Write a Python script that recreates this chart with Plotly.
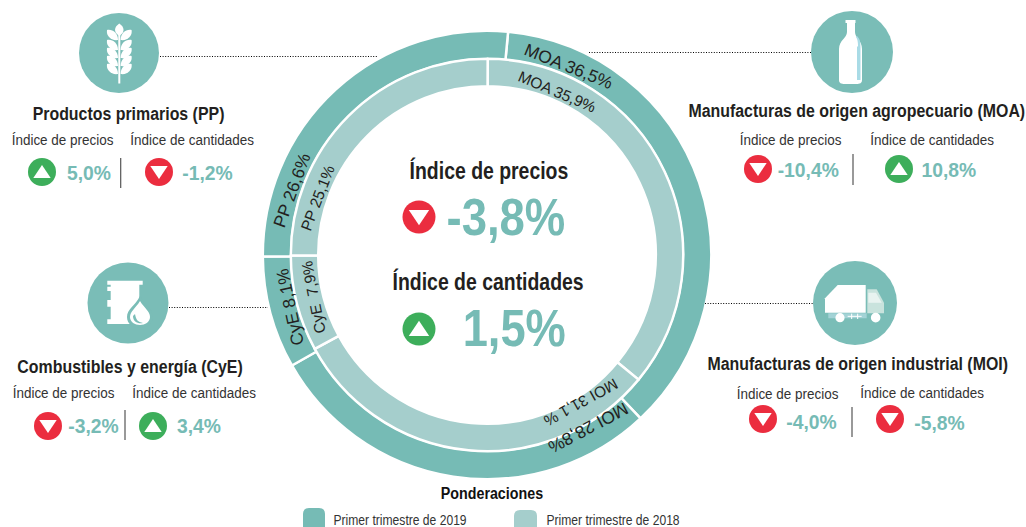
import json
import plotly.graph_objects as go

# ---------- data ----------
categories = ["MOA", "MOI", "CyE", "PP"]
weights_2019 = [36.5, 28.8, 8.1, 26.6]
weights_2018 = [35.9, 31.1, 7.9, 25.1]
series_names = ["Primer trimestre de 2019", "Primer trimestre de 2018"]

total_precios = -3.8
total_cantidades = 1.5
panel_titles = ["Productos primarios (PP)", "Combustibles y energía (CyE)",
                "Manufacturas de origen agropecuario (MOA)", "Manufacturas de origen industrial (MOI)"]
panel_precios = [5.0, -3.2, -10.4, -4.0]
panel_cantidades = [-1.2, 3.4, 10.8, -5.8]
sub_precios = "Índice de precios"
sub_cantidades = "Índice de cantidades"

ring_labels_2019 = ["MOA 36,5%", "MOI 28,8%", "CyE 8,1%", "PP 26,6%"]
ring_labels_2018 = ["MOA 35,9%", "MOI 31,1 %", "CyE  7,9%", "PP 25,1%"]

# ---------- style / layout ----------
W, H = 1026, 527
TEAL, LIGHT, RED, GREEN, INK = "#76BBB5", "#A5CECC", "#EB2D3F", "#3DAE5B", "#231F20"
DISC = "#7ABDB7"
SANS = "Liberation Sans, Arial, sans-serif"
CX, CY = 487, 255


def fmt(v):
    return f"{v:.1f}%".replace(".", ",")


def pie(values, R, r, rotation, color, name):
    return go.Pie(
        labels=categories, values=values, sort=False, direction="clockwise", rotation=rotation,
        hole=r / R, textinfo="none", hoverinfo="skip", showlegend=False, name=name,
        marker=dict(colors=[color] * 4, line=dict(color="white", width=2.5)),
        domain=dict(x=[(CX - R) / W, (CX + R) / W], y=[1 - (CY + R) / H, 1 - (CY - R) / H]),
    )


fig = go.Figure()
fig.add_trace(pie(weights_2019, 224.2, 195.8, 5.4, TEAL, series_names[0]))
fig.add_trace(pie(weights_2018, 196.2, 168.8, 0.2, LIGHT, series_names[1]))

ann = []
squeeze = {}   # annotation index -> horizontal condensing factor (no condensed font is installed)


def text(x, y, s, size, bold=False, color=INK, angle=0, k=None):
    if k:
        squeeze[len(ann)] = k
    ann.append(dict(x=x, y=y, xref="x", yref="y", text=f"<b>{s}</b>" if bold else s, showarrow=False,
                    xanchor="center", yanchor="middle", textangle=angle, borderpad=0,
                    font=dict(family=SANS, size=size, color=color)))


shapes = []


def circle(cx, cy, r, color):
    shapes.append(dict(type="circle", xref="x", yref="y", x0=cx - r, x1=cx + r, y0=cy - r, y1=cy + r,
                       fillcolor=color, line=dict(width=0)))


def path(d, color):
    shapes.append(dict(type="path", xref="x", yref="y", path=d, fillcolor=color, line=dict(width=0)))


def line(x0, y0, x1, y1, color="#3a3a3a", width=1, dash="solid"):
    shapes.append(dict(type="line", xref="x", yref="y", x0=x0, y0=y0, x1=x1, y1=y1,
                       line=dict(color=color, width=width, dash=dash)))


def poly(pts, color, ox=0, oy=0, k=1.0):
    d = "M " + " L ".join(f"{ox + x * k:.1f},{oy + y * k:.1f}" for x, y in pts) + " Z"
    path(d, color)


big_x, big_y, big_c, big_s = [], [], [], []


def badge(x, y, v, r=14):
    up = v > 0
    big_x.append(x); big_y.append(y); big_c.append(GREEN if up else RED); big_s.append(2 * r)
    w, t, b = 0.62 * r, 0.5 * r, 0.42 * r
    if up:
        poly([(x - w, y + b), (x + w, y + b), (x, y - t)], "white")
    else:
        poly([(x - w, y - b), (x + w, y - b), (x, y + t)], "white")


# ----- donut labels -----
label_pos_2019 = [(568, 66, 22), (588, 428, 152), (290, 307, -102), (292, 190, -70)]
label_pos_2018 = [(557, 91, 23), (581, 403, 151), (313, 298, -101), (317, 198, -69)]
for s, (x, y, a) in zip(ring_labels_2019, label_pos_2019):
    text(x, y, s, 17.5, angle=a)
for s, (x, y, a) in zip(ring_labels_2018, label_pos_2018):
    text(x, y, s, 15.5, angle=a)

# ----- centre -----
text(489, 170, sub_precios, 23, bold=True, k=0.845)
badge(419, 217, total_precios, 16.5)
text(506, 217, fmt(total_precios), 52, bold=True, color=TEAL, k=0.875)
text(488, 281, sub_cantidades, 23, bold=True, k=0.845)
badge(419, 329, total_cantidades, 16.5)
text(514, 328, fmt(total_cantidades), 52, bold=True, color=TEAL, k=0.87)

# ----- panels -----
panel_geom = [
    dict(title=(128, 113), s1=(62, 139), s2=(192, 139), b1=(42, 172), v1=(89, 172), sep=(120.7, 158, 188),
         b2=(159, 172), v2=(207, 172)),
    dict(title=(130, 366), s1=(63, 392), s2=(194, 392), b1=(48, 426), v1=(93, 425), sep=(125, 410, 440),
         b2=(153, 426), v2=(199, 425)),
    dict(title=(857, 110), s1=(790, 139), s2=(932, 139), b1=(758, 169), v1=(808, 169), sep=(853, 154, 185),
         b2=(899, 169), v2=(949, 169)),
    dict(title=(857, 363), s1=(787, 393), s2=(922, 392), b1=(763, 419), v1=(811, 421), sep=(852, 407, 437),
         b2=(890, 419), v2=(939, 422)),
]
for t, p, q, g in zip(panel_titles, panel_precios, panel_cantidades, panel_geom):
    text(*g["title"], t, 18.5, bold=True, k=0.86)
    text(*g["s1"], sub_precios, 15.5, color="#333333", k=0.87)
    text(*g["s2"], sub_cantidades, 15.5, color="#333333", k=0.87)
    badge(*g["b1"], p)
    badge(*g["b2"], q)
    text(*g["v1"], fmt(p), 21, bold=True, color=TEAL, k=0.92)
    text(*g["v2"], fmt(q), 21, bold=True, color=TEAL, k=0.92)
    line(g["sep"][0], g["sep"][1], g["sep"][0], g["sep"][2], "#555555", 1.2)

# ----- dotted leaders -----
DOT = "1px,1.6px"
line(160, 56.5, 377, 56.5, "#000000", 1.2, DOT)
line(169, 307.5, 268, 307.5, "#000000", 1.2, DOT)
line(589, 52.5, 811, 52.5, "#000000", 1.2, DOT)
line(705, 303.5, 813, 303.5, "#000000", 1.2, DOT)

# ----- icon discs -----
circle(119, 53, 40, DISC)
circle(128, 303, 40.5, DISC)
circle(852, 52, 41, DISC)
circle(855, 303, 42, DISC)

# wheat
line(119.3, 35, 119.3, 83.5, "white", 2)
path("M 119.3,23.5 C 114,27 113.5,32 118.6,35.5 L 120,35.5 C 125,32 124.6,27 119.3,23.5 Z", "white")
for y0 in (31, 41, 49, 57, 65):
    path(f"M 118,{y0 + 9} C 118,{y0 + 2} 112.5,{y0 - 2} 107,{y0 - 1} C 106,{y0 + 5} 111,{y0 + 10} 118,{y0 + 9} Z", "white")
    path(f"M 120.6,{y0 + 9} C 120.6,{y0 + 2} 126,{y0 - 2} 131.6,{y0 - 1} C 132.6,{y0 + 5} 127.6,{y0 + 10} 120.6,{y0 + 9} Z", "white")

# barrel + drop (zoom coordinates, 3x)
ox, oy = 0, 250
poly([(322, 92), (428, 92), (428, 104), (418, 104), (418, 150), (400, 208), (428, 208), (428, 222), (322, 222),
      (322, 208), (332, 208), (332, 170), (322, 170), (322, 150), (332, 150), (332, 123), (322, 123), (322, 110),
      (332, 110), (332, 104), (322, 104)], "white", ox, oy, 1 / 3)
path("M 140,296 C 135,306 127,309 127,317 C 127,324 133,328 140,328 C 147,328 153,324 153,317 C 153,309 145,306 140,296 Z",
     DISC)
path("M 140,301 C 136,308 130,311 130,317 C 130,322 135,325 140,325 C 145,325 150,322 150,317 C 150,311 144,308 140,301 Z",
     "white")
path("M 133,316 C 133,322 138,324 143,323 C 138,322 136,320 135,314 Z", DISC)

# bottle
path("M 845.5,20 L 855.5,20 L 855.5,23 L 855,23 L 855,32 C 855,38 862,40 862,49 L 862,80 C 862,83 860,84 856,84 "
     "L 845,84 C 841,84 839,83 839,80 L 839,49 C 839,40 847,38 847,32 L 847,23 L 845.5,23 Z", "white")
path("M 857,36 C 860,39 860.5,42 860.5,47 L 860.5,80 L 857,80 L 857,47 L 858,46 C 858,42 857.5,39 856,37 Z", "#A9DBE6")

# truck
ox, oy = 680, 250
k = 1 / 3
poly([(435, 145), (473, 105), (557, 105), (557, 188), (435, 188)], "white", ox, oy, k)
poly([(562, 118), (590, 118), (612, 158), (612, 190), (562, 190)], "#C9E3DD", ox, oy, k)
poly([(565, 128), (588, 128), (605, 158), (565, 158)], "#E8F3F0", ox, oy, k)
poly([(445, 190), (560, 190), (560, 205), (445, 205)], "#A3D3D6", ox, oy, k)
circle(ox + 480 * k, oy + 203 * k, 4.6, "white")
circle(ox + 587 * k, oy + 203 * k, 4.8, "white")
line(ox + 503 * k, oy + 199 * k, ox + 545 * k, oy + 199 * k, "white", 1)
line(ox + 515 * k, oy + 191 * k, ox + 515 * k, oy + 207 * k, "white", 1)
line(ox + 533 * k, oy + 191 * k, ox + 533 * k, oy + 207 * k, "white", 1)

# ----- legend -----
text(492, 493, "Ponderaciones", 17, bold=True, color="#111111", k=0.84)


def swatch(x0, x1, y0, y1, r, color):
    path(f"M {x0 + r},{y0} L {x1 - r},{y0} Q {x1},{y0} {x1},{y0 + r} L {x1},{y1 - r} Q {x1},{y1} {x1 - r},{y1} "
         f"L {x0 + r},{y1} Q {x0},{y1} {x0},{y1 - r} L {x0},{y0 + r} Q {x0},{y0} {x0 + r},{y0} Z", color)


swatch(303, 325, 508, 532, 6, TEAL)
swatch(514, 537, 510, 534, 6, LIGHT)
text(399.5, 520, series_names[0], 14, color="#333333", k=0.865)
text(613, 520, series_names[1], 14, color="#333333", k=0.865)

# ----- badges as scatter markers -----
fig.add_trace(go.Scatter(x=big_x, y=big_y, mode="markers", hoverinfo="skip", showlegend=False,
                         marker=dict(symbol="circle", size=big_s, sizemode="diameter", opacity=1, color=big_c,
                                     line=dict(width=0))))

fig.update_layout(
    width=W, height=H, margin=dict(l=0, r=0, t=0, b=0), paper_bgcolor="white", plot_bgcolor="white",
    showlegend=False, hovermode=False, annotations=ann, shapes=shapes,
    xaxis=dict(range=[0, W], visible=False, fixedrange=True),
    yaxis=dict(range=[H, 0], visible=False, fixedrange=True),
)

post = """
document.body.style.margin = '0';
var sq = %s;
document.querySelectorAll('.annotation').forEach(function (g) {
  var k = sq[g.getAttribute('data-index')];
  if (!k) return;
  var t = g.querySelector('text');
  var b = t.getBBox(), c = b.x + b.width / 2;
  t.setAttribute('transform', 'translate(' + c + ',0) scale(' + k + ',1) translate(' + (-c) + ',0)');
});
""" % json.dumps(squeeze)
fig.write_html("out.html", config=dict(displayModeBar=False), post_script=post)
